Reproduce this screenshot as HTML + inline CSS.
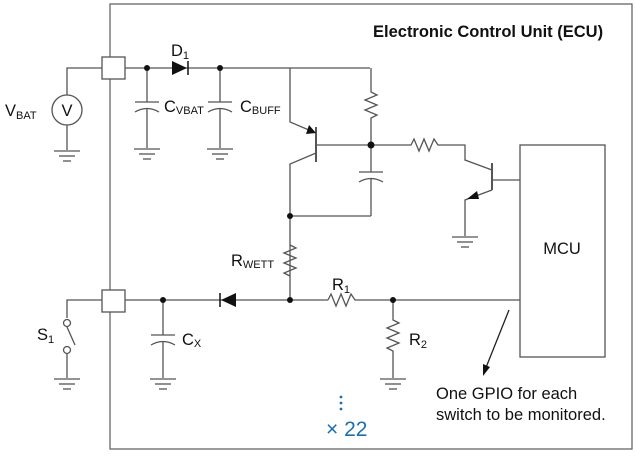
<!DOCTYPE html>
<html><head><style>body{margin:0;background:#fff}svg{display:block}</style></head><body>
<svg width="636" height="456" viewBox="0 0 636 456" xmlns="http://www.w3.org/2000/svg" font-family="Liberation Sans, Arial, sans-serif">
<defs>
<g id="g" stroke="#555" stroke-width="1.3"><line x1="-13" y1="0" x2="13" y2="0"/><line x1="-8" y1="5" x2="8" y2="5"/><line x1="-4" y1="10" x2="4" y2="10"/></g>
</defs>
<g stroke="#555" stroke-width="1.3" fill="none">
<rect x="110" y="4" width="522" height="445" stroke="#666"/>
<polyline points="67,95 67,68 103,68"/>
<line x1="125" y1="68" x2="370" y2="68"/>
<rect x="102" y="57" width="23" height="22" fill="#fff"/>
<circle cx="67" cy="110" r="15"/>
<line x1="67" y1="125" x2="67" y2="150"/>
<line x1="147" y1="68" x2="147" y2="102"/><line x1="135" y1="102" x2="159" y2="102"/>
<path d="M135,112 Q147,105 159,112"/><line x1="147" y1="108" x2="147" y2="148"/>
<line x1="220" y1="68" x2="220" y2="102"/><line x1="208" y1="102" x2="232" y2="102"/>
<path d="M208,112 Q220,105 232,112"/><line x1="220" y1="108" x2="220" y2="148"/>
<polyline points="290,68 290,122 316,133"/>
<line x1="316" y1="127" x2="316" y2="162" stroke-width="2"/>
<polyline points="316,153 290,164 290,298"/>
<line x1="316" y1="145" x2="371" y2="145"/>
<line x1="290" y1="216" x2="371" y2="216"/>
<polyline points="371,68 371,92 377,95 365,100 377,105 365,110 377,115 371,118 371,172"/>
<line x1="359" y1="172" x2="383" y2="172"/>
<path d="M359,182 Q371,175 383,182"/><line x1="371" y1="178" x2="371" y2="216"/>
<polyline points="371,145 411,145 414,139 419,151 424,139 429,151 434,139 438,145 465,145 465,160 492,170"/>
<line x1="492" y1="163" x2="492" y2="190" stroke-width="2"/>
<line x1="492" y1="180" x2="520" y2="180"/>
<polyline points="492,190 465,200 465,236"/>
<polyline points="290,245 296,248 284,253 296,258 284,263 296,268 284,273 290,276"/>
<polyline points="67,318 67,300 103,300"/>
<line x1="125" y1="300" x2="328" y2="300"/>
<polyline points="328,300 331,294 336,306 341,294 346,306 351,294 355,300 520,300"/>
<rect x="102" y="290" width="23" height="22" fill="#fff"/>
<line x1="67" y1="350" x2="67" y2="378"/>
<line x1="67" y1="327" x2="75" y2="345"/>
<circle cx="67" cy="323" r="3.5" fill="#fff"/><circle cx="67" cy="350" r="3.5" fill="#fff"/>
<line x1="163" y1="300" x2="163" y2="335"/><line x1="151" y1="335" x2="175" y2="335"/>
<path d="M151,345 Q163,338 175,345"/><line x1="163" y1="341" x2="163" y2="378"/>
<polyline points="393,300 393,320 399,323 387,328 399,333 387,338 399,343 387,348 393,351 393,378"/>
<rect x="520" y="145" width="85" height="212"/>
<line x1="509" y1="310" x2="485" y2="370" stroke="#222"/>
</g>
<use href="#g" x="67" y="151"/><use href="#g" x="147" y="149"/><use href="#g" x="220" y="149"/>
<use href="#g" x="465" y="237"/><use href="#g" x="67" y="379"/><use href="#g" x="163" y="379"/><use href="#g" x="393" y="379"/>
<g fill="#111" stroke="none">
<circle cx="147" cy="68" r="3"/><circle cx="220" cy="68" r="3"/><circle cx="371" cy="145" r="3.5"/>
<circle cx="290" cy="216" r="3"/><circle cx="290" cy="300" r="3"/><circle cx="163" cy="300" r="3"/><circle cx="393" cy="300" r="3"/>
<polygon points="172,61 172,75 187,68"/>
<polygon points="236,293 236,307 221,300"/>
<polygon points="316,133 306,134 309,125"/>
<polygon points="467,199 477,191 479,199"/>
<polygon points="483,376 483,364 490,367"/>
</g>
<g stroke="#111" stroke-width="1.5"><line x1="188" y1="61" x2="188" y2="75"/><line x1="220" y1="293" x2="220" y2="307"/></g>
<g fill="#111" font-size="16.5">
<text x="67" y="116" text-anchor="middle">V</text>
<text x="5" y="116">V<tspan font-size="11" dy="3">BAT</tspan></text>
<text x="171" y="56">D<tspan font-size="11" dy="3">1</tspan></text>
<text x="164" y="112">C<tspan font-size="11" dy="2">VBAT</tspan></text>
<text x="240" y="112">C<tspan font-size="11" dy="2">BUFF</tspan></text>
<text x="231" y="266">R<tspan font-size="11" dy="2">WETT</tspan></text>
<text x="332" y="290">R<tspan font-size="11" dy="3">1</tspan></text>
<text x="409" y="345">R<tspan font-size="11" dy="3">2</tspan></text>
<text x="182" y="345">C<tspan font-size="11" dy="2">X</tspan></text>
<text x="37" y="340">S<tspan font-size="11" dy="3">1</tspan></text>
<text x="562" y="254" text-anchor="middle">MCU</text>
<text x="436" y="399">One GPIO for each</text>
<text x="436" y="420">switch to be monitored.</text>
<text x="373" y="37" font-weight="bold" font-size="16.5">Electronic Control Unit (ECU)</text>
</g>
<g fill="#1a6fb5">
<circle cx="341" cy="397" r="1.4"/><circle cx="341" cy="403" r="1.4"/><circle cx="341" cy="409" r="1.4"/>
<text x="326" y="436" font-size="21">× 22</text>
</g>
</svg>
</body></html>
